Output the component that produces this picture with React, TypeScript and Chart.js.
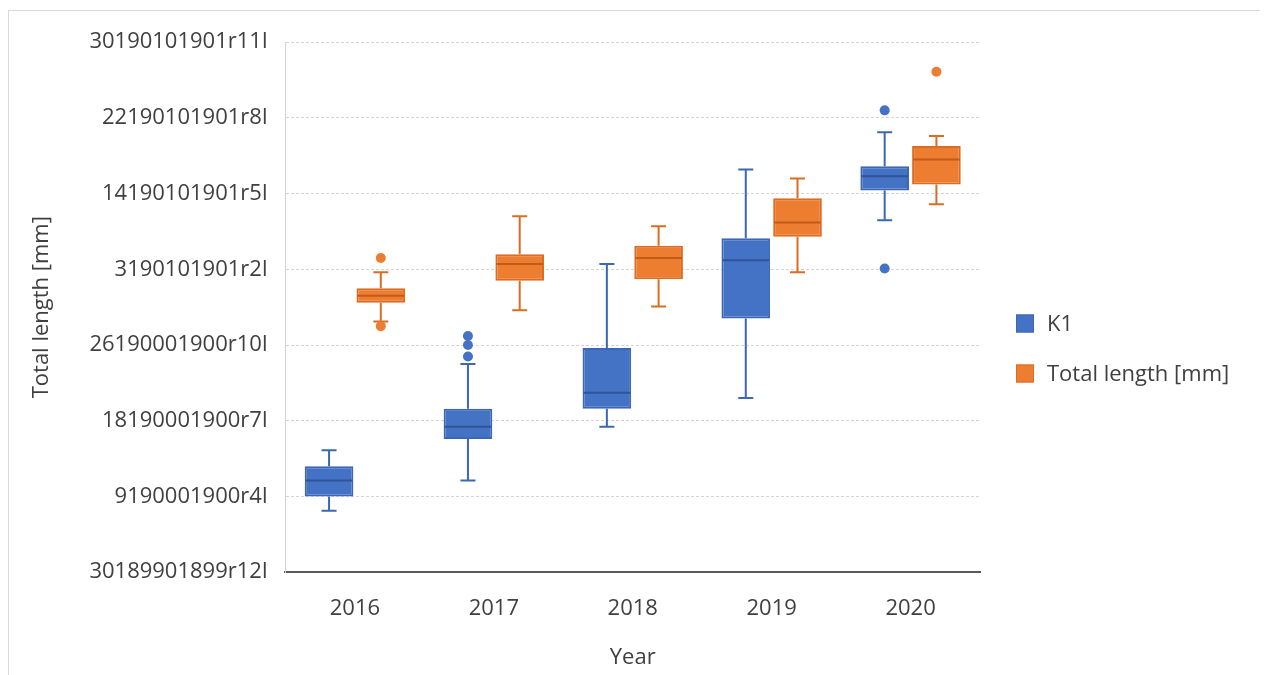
import React, { useEffect, useRef } from 'react';
import { Chart, registerables } from 'chart.js';

Chart.register(...registerables);

const YEARS = ['2016', '2017', '2018', '2019', '2020'];

const Y_TICK_LABELS = [
  '30189901899r12l',
  '9190001900r4l',
  '18190001900r7l',
  '26190001900r10l',
  '3190101901r2l',
  '14190101901r5l',
  '22190101901r8l',
  '30190101901r11l',
];

// K1 series (box statistics per year)
const K1_MIN = [0.81, 1.21, 1.92, 2.3, 4.65];
const K1_Q1 = [1.0, 1.76, 2.16, 3.35, 5.04];
const K1_MEDIAN = [1.21, 1.92, 2.37, 4.12, 5.23];
const K1_Q3 = [1.4, 2.16, 2.96, 4.41, 5.36];
const K1_MAX = [1.61, 2.75, 4.07, 5.32, 5.81];
const K1_OUTLIERS = [[], [2.85, 3.0, 3.12], [], [], [6.1, 4.01]];

// Total length [mm] series
const TL_MIN = [3.31, 3.46, 3.51, 3.96, 4.86];
const TL_Q1 = [3.56, 3.85, 3.87, 4.43, 5.12];
const TL_MEDIAN = [3.65, 4.07, 4.15, 4.62, 5.45];
const TL_Q3 = [3.75, 4.2, 4.31, 4.94, 5.63];
const TL_MAX = [3.96, 4.7, 4.57, 5.2, 5.76];
const TL_OUTLIERS = [[4.15, 3.25], [], [], [], [6.61]];

const SERIES = [
  {
    name: 'K1',
    min: K1_MIN, q1: K1_Q1, median: K1_MEDIAN, q3: K1_Q3, max: K1_MAX, outliers: K1_OUTLIERS,
    fill: '#4472C4', line: '#3C67B5', medianColor: '#2F5597',
  },
  {
    name: 'Total length [mm]',
    min: TL_MIN, q1: TL_Q1, median: TL_MEDIAN, q3: TL_Q3, max: TL_MAX, outliers: TL_OUTLIERS,
    fill: '#ED7D31', line: '#DC6C22', medianColor: '#C25B16',
  },
];

const FONT = "'Open Sans', 'Noto Sans', sans-serif";
const TEXT = '#404040';

const boxPlugin = {
  id: 'boxWhiskers',
  afterDatasetsDraw(chart: any) {
    const { ctx } = chart;
    const y = chart.scales.y;
    SERIES.forEach((s, di) => {
      const meta = chart.getDatasetMeta(di);
      meta.data.forEach((bar: any, i: number) => {
        const x = bar.x;
        const w = bar.width;
        const pQ1 = y.getPixelForValue(s.q1[i]);
        const pQ3 = y.getPixelForValue(s.q3[i]);
        const pMin = y.getPixelForValue(s.min[i]);
        const pMax = y.getPixelForValue(s.max[i]);
        const pMed = y.getPixelForValue(s.median[i]);
        const cap = 15;
        ctx.save();
        ctx.strokeStyle = s.line;
        ctx.lineWidth = 2;
        ctx.lineCap = 'butt';
        ctx.beginPath();
        ctx.moveTo(x, pQ3);
        ctx.lineTo(x, pMax);
        ctx.moveTo(x - cap / 2, pMax);
        ctx.lineTo(x + cap / 2, pMax);
        ctx.moveTo(x, pQ1);
        ctx.lineTo(x, pMin);
        ctx.moveTo(x - cap / 2, pMin);
        ctx.lineTo(x + cap / 2, pMin);
        ctx.stroke();
        ctx.strokeStyle = s.medianColor;
        ctx.beginPath();
        ctx.moveTo(x - w / 2 + 1, pMed);
        ctx.lineTo(x + w / 2 - 1, pMed);
        ctx.stroke();
        ctx.fillStyle = s.fill;
        s.outliers[i].forEach((v: number) => {
          ctx.beginPath();
          ctx.arc(x, y.getPixelForValue(v), 5, 0, Math.PI * 2);
          ctx.fill();
        });
        ctx.restore();
      });
    });
  },
};

const legendPlugin = {
  id: 'sideLegend',
  afterDraw(chart: any) {
    const { ctx, chartArea } = chart;
    const x0 = chartArea.right + 36;
    const step = 50;
    const startY = chart.height / 2 - step / 2;
    ctx.save();
    ctx.font = `22px ${FONT}`;
    ctx.textBaseline = 'middle';
    ctx.textAlign = 'left';
    SERIES.forEach((s, i) => {
      const cy = startY + i * step;
      ctx.fillStyle = s.fill;
      ctx.fillRect(x0, cy - 9, 18, 18);
      ctx.strokeStyle = s.line;
      ctx.lineWidth = 1;
      ctx.strokeRect(x0 + 0.5, cy - 8.5, 17, 17);
      ctx.fillStyle = TEXT;
      ctx.fillText(s.name, x0 + 31, cy + 1);
    });
    ctx.restore();
  },
};

export default function App() {
  const ref = useRef<HTMLCanvasElement | null>(null);
  useEffect(() => {
    if (!ref.current) return;
    const chart = new Chart(ref.current, {
      type: 'bar',
      data: {
        labels: YEARS,
        datasets: SERIES.map((s) => ({
          label: s.name,
          data: s.q1.map((v, i) => [v, s.q3[i]]),
          backgroundColor: s.fill,
          borderColor: s.line,
          borderWidth: 2,
          borderSkipped: false,
          categoryPercentage: 0.745,
          barPercentage: 0.94,
        })),
      },
      options: {
        responsive: false,
        animation: false,
        layout: { padding: { left: 14, right: 285, top: 31, bottom: 11 } },
        plugins: {
          tooltip: { enabled: false },
          legend: { display: false },
        },
        scales: {
          x: {
            grid: { display: false },
            border: { display: true, color: '#595959', width: 2 },
            ticks: { color: TEXT, font: { family: FONT, size: 22 }, padding: 15 },
            title: {
              display: true,
              text: 'Year',
              color: TEXT,
              font: { family: FONT, size: 22 },
              padding: { top: 8, bottom: 4 },
            },
          },
          y: {
            min: 0,
            max: 7,
            grid: { color: '#d4d4d4', lineWidth: 1, drawTicks: false },
            border: { display: true, color: '#d4d4d4', dash: [3, 2] },
            ticks: {
              stepSize: 1,
              color: TEXT,
              font: { family: FONT, size: 22 },
              padding: 18,
              callback: (v: any) => Y_TICK_LABELS[Math.round(Number(v))] ?? '',
            },
            title: {
              display: true,
              text: 'Total length [mm]',
              color: TEXT,
              font: { family: FONT, size: 22 },
              padding: { top: 6, bottom: 16 },
            },
          },
        },
      },
      plugins: [boxPlugin, legendPlugin],
    });
    return () => chart.destroy();
  }, []);
  return (
    <div style={{ marginTop: 2, width: 1256, height: 675, border: '1px solid #d9d9d9', background: '#fff' }}>
      <canvas ref={ref} width={1256} height={675} style={{ display: 'block' }} />
    </div>
  );
}
